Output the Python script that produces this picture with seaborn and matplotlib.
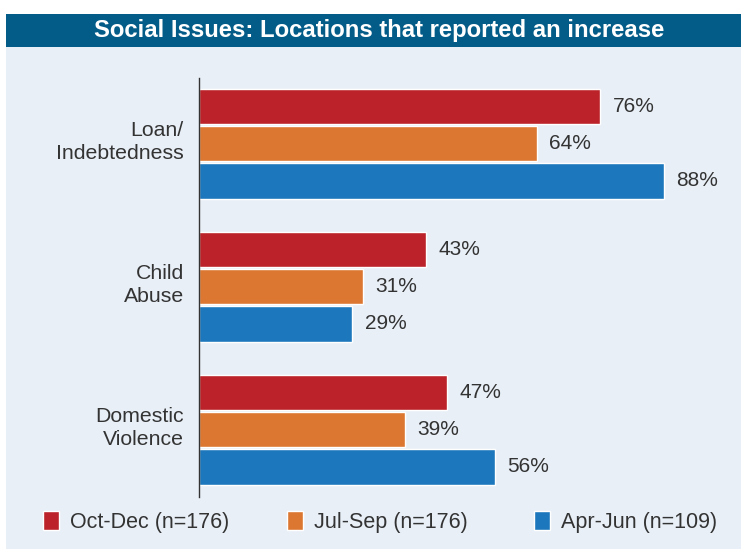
import matplotlib
matplotlib.use("Agg")
import matplotlib.pyplot as plt
import matplotlib.transforms as mtransforms
import seaborn as sns
import pandas as pd
from matplotlib.patches import Rectangle

categories = ["Loan/\nIndebtedness", "Child\nAbuse", "Domestic\nViolence"]
series_names = ["Oct-Dec (n=176)", "Jul-Sep (n=176)", "Apr-Jun (n=109)"]
oct_dec = [76, 43, 47]
jul_sep = [64, 31, 39]
apr_jun = [88, 29, 56]
colors = ["#BB2229", "#DB7730", "#1C77BD"]

sns.set_theme(style="white")
plt.rcParams['font.family'] = ['Liberation Sans', 'DejaVu Sans']

rows = []
for name, vals in zip(series_names, [oct_dec, jul_sep, apr_jun]):
    for c, v in zip(categories, vals):
        rows.append({"category": c, "series": name, "value": v})
df = pd.DataFrame(rows)

W, H = 741, 550
fig = plt.figure(figsize=(W / 100, H / 100), dpi=100)
fig.patch.set_facecolor("white")

# background panel and title bar
bg = "#E8EFF7"
fig.patches.append(Rectangle((6 / W, 1 - 549 / H), 1 - 6 / W, (549 - 47) / H,
                             transform=fig.transFigure, facecolor=bg, edgecolor="none", zorder=-2))
fig.patches.append(Rectangle((6 / W, 1 - 47 / H), 1 - 6 / W, 33 / H,
                             transform=fig.transFigure, facecolor="#035B88", edgecolor="none", zorder=-2))
fig.text(379 / W, 1 - 30 / H, "Social Issues: Locations that reported an increase",
         ha="center", va="center", color="white", fontsize=17.2, fontweight="bold")

ax = fig.add_axes([199 / W, 1 - 497 / H, 1 - 199 / W, (497 - 78) / H])
ax.set_facecolor("none")
sns.barplot(data=df, y="category", x="value", hue="series", order=categories,
            hue_order=series_names, palette=colors, width=0.78, gap=0.05,
            saturation=1, orient="h", ax=ax, legend=True)

handles, labels = ax.get_legend_handles_labels()
ax.get_legend().remove()

ax.set_xlim(0, 542 / 5.28)
ax.set_ylim(2.47, -0.46)
for s in ["top", "right", "bottom"]:
    ax.spines[s].set_visible(False)
ax.spines["left"].set_color("#333333")
ax.spines["left"].set_linewidth(1.0)
ax.set_xticks([])
ax.set_xlabel("")
ax.set_ylabel("")
ax.tick_params(axis="y", length=0, pad=11, labelsize=15.3, labelcolor="#333333")
shift = mtransforms.ScaledTranslation(0, 6 / 100, fig.dpi_scale_trans)
for lab in ax.get_yticklabels():
    lab.set_horizontalalignment("right")
    lab.set_multialignment("right")
    lab.set_linespacing(1.3)
    lab.set_transform(lab.get_transform() + shift)

for cont in ax.containers:
    ax.bar_label(cont, labels=[f"{v:.0f}%" for v in cont.datavalues],
                 padding=9, fontsize=15, color="#333333")

legend_x = [43, 287, 534]
for h, l, x in zip(handles, labels, legend_x):
    fig.legend([h], [l], loc="center left", bbox_to_anchor=(x / W, 1 - 522 / H),
               frameon=False, fontsize=15.5, labelcolor="#333333",
               handlelength=0.75, handleheight=0.93, handletextpad=0.52,
               borderaxespad=0, borderpad=0)

fig.savefig("out.png", dpi=100, facecolor="white")
